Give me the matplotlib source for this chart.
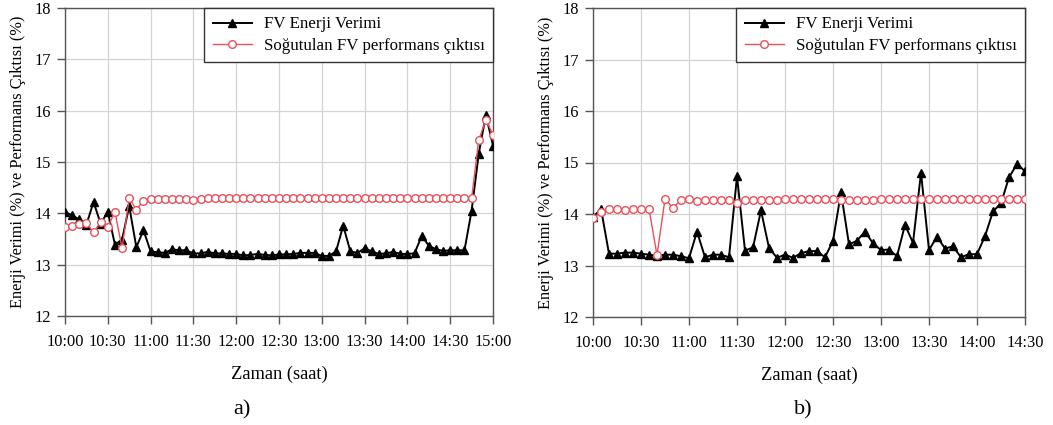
import matplotlib
matplotlib.use("Agg")
import matplotlib.pyplot as plt
import numpy as np

plt.rcParams['font.family'] = ['Liberation Serif', 'DejaVu Serif']

# Time axis: minutes after 10:00, one reading every 5 minutes
step_min = 5
ticks_a = ["10:00", "10:30", "11:00", "11:30", "12:00", "12:30",
           "13:00", "13:30", "14:00", "14:30", "15:00"]
ticks_b = ["10:00", "10:30", "11:00", "11:30", "12:00", "12:30",
           "13:00", "13:30", "14:00", "14:30"]

# Panel a) series
verim_a = [14.03, 13.96, 13.88, 13.78, 14.22, 13.80, 14.03, 13.39, 13.49, 14.14,
           13.34, 13.67, 13.26, 13.24, 13.23, 13.30, 13.28, 13.28, 13.22, 13.22,
           13.25, 13.22, 13.22, 13.21, 13.21, 13.18, 13.19, 13.21, 13.19, 13.18,
           13.20, 13.20, 13.21, 13.23, 13.23, 13.23, 13.17, 13.17, 13.26, 13.76,
           13.26, 13.23, 13.32, 13.26, 13.21, 13.22, 13.25, 13.21, 13.21, 13.22,
           13.56, 13.37, 13.30, 13.27, 13.28, 13.28, 13.28, 14.05, 15.16, 15.92,
           15.32]
sogutulan_a = [13.73, 13.76, 13.80, 13.81, 13.63, 13.83, 13.73, 14.03, 13.32, 14.30,
               14.07, 14.25, 14.27, 14.27, 14.27, 14.27, 14.27, 14.27, 14.26, 14.27,
               14.29, 14.29, 14.29, 14.29, 14.29, 14.29, 14.29, 14.29, 14.29, 14.29,
               14.29, 14.29, 14.29, 14.29, 14.29, 14.29, 14.29, 14.29, 14.29, 14.29,
               14.29, 14.29, 14.29, 14.29, 14.29, 14.29, 14.29, 14.29, 14.29, 14.29,
               14.29, 14.29, 14.29, 14.29, 14.29, 14.29, 14.29, 14.29, 15.43, 15.82,
               15.53]

# Panel b) series
verim_b = [13.94, 14.10, 13.23, 13.23, 13.25, 13.25, 13.23, 13.21, 13.19, 13.21,
           13.21, 13.18, 13.14, 13.66, 13.16, 13.21, 13.21, 13.16, 14.73, 13.29,
           13.35, 14.07, 13.34, 13.15, 13.21, 13.15, 13.24, 13.28, 13.28, 13.16,
           13.48, 14.42, 13.41, 13.48, 13.66, 13.43, 13.30, 13.31, 13.18, 13.79,
           13.44, 14.80, 13.30, 13.56, 13.33, 13.37, 13.16, 13.22, 13.22, 13.57,
           14.05, 14.21, 14.71, 14.97, 14.83]
sogutulan_b = [13.92, 14.03, 14.10, 14.10, 14.08, 14.09, 14.10, 14.10, 13.20, 14.29,
               14.12, 14.27, 14.29, 14.25, 14.27, 14.27, 14.27, 14.28, 14.22, 14.27,
               14.27, 14.28, 14.28, 14.28, 14.29, 14.29, 14.29, 14.29, 14.29, 14.29,
               14.29, 14.27, 14.28, 14.27, 14.27, 14.28, 14.29, 14.29, 14.29, 14.29,
               14.29, 14.29, 14.29, 14.29, 14.29, 14.29, 14.29, 14.29, 14.29, 14.29,
               14.29, 14.29, 14.29, 14.29, 14.29]

label_verim = "FV Enerji Verimi"
label_sog = "Soğutulan FV performans çıktısı"
ylabel = "Enerji Verimi (%) ve Performans Çıktısı (%)"
xlabel = "Zaman (saat)"

RED = "#e8505a"
fig = plt.figure(figsize=(10.53, 4.25), dpi=100)
ax_a = fig.add_axes([65 / 1053, 109 / 425, 428 / 1053, 308 / 425])
ax_b = fig.add_axes([593 / 1053, 108 / 425, 432 / 1053, 309 / 425])


def draw(ax, verim, sog, ticks, tag, tag_x):
    x = np.arange(len(verim)) * step_min
    ax.plot(x, verim, color="black", lw=1.4, marker="^", ms=5.5,
            label=label_verim, zorder=3)
    ax.plot(x, sog, color=RED, lw=1.0, marker="o", ms=5.5,
            markerfacecolor="white", markeredgewidth=1.0,
            label=label_sog, zorder=4)
    tick_pos = np.arange(len(ticks)) * 30
    ax.set_xticks(tick_pos)
    ax.set_xticklabels(ticks)
    ax.set_xlim(tick_pos[0], tick_pos[-1])
    ax.set_ylim(12, 18)
    ax.set_yticks(range(12, 19))
    ax.grid(True, color="#d4d4d4", lw=0.9)
    ax.set_axisbelow(True)
    for s in ax.spines.values():
        s.set_color("#555555")
        s.set_linewidth(1.0)
    ax.tick_params(direction="out", length=6, width=1.0, color="#555555",
                   labelsize=11.8)
    ax.tick_params(axis="x", pad=7)
    ax.tick_params(axis="y", pad=4)
    ax.set_ylabel(ylabel, fontsize=11.8, labelpad=6)
    ax.set_xlabel(xlabel, fontsize=13.3, labelpad=11)
    leg = ax.legend(loc="upper right", borderaxespad=0, fancybox=False,
                    edgecolor="#333333", fontsize=12.2, handlelength=2.3,
                    handletextpad=0.7, borderpad=0.5, labelspacing=0.3,
                    framealpha=1)
    leg.get_frame().set_linewidth(1.0)
    fig.text(tag_x, 0.035, tag, fontsize=16, ha="center", va="center")


draw(ax_a, verim_a, sogutulan_a, ticks_a, "a)", 242 / 1053)
draw(ax_b, verim_b, sogutulan_b, ticks_b, "b)", 803 / 1053)

fig.savefig("out.png", dpi=100)
